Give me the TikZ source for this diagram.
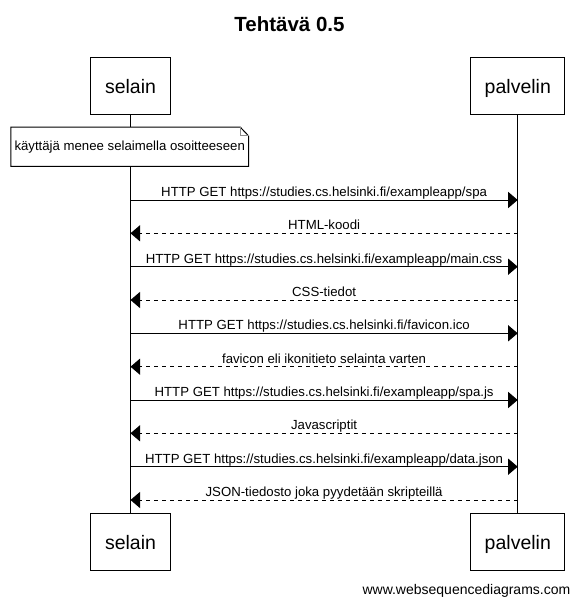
\documentclass[tikz,border=0pt]{standalone}
\usepackage{fontspec}
\setmainfont{Liberation Sans}
\usetikzlibrary{arrows.meta,backgrounds}
\begin{document}
\begin{tikzpicture}[x=1pt,y=-1pt,
  actor/.style={draw, line width=1pt, fill=white, minimum height=57pt, inner sep=0pt,
    text height=16.5pt, text depth=0pt, font=\fontsize{19.5}{22}\selectfont},
  msglabel/.style={anchor=base, yshift=3.5pt, inner sep=0pt, font=\fontsize{13.2}{15}\selectfont},
  req/.style={line width=1pt, -{Triangle[length=9.5pt,width=16pt]}},
  resp/.style={req, dash pattern=on 4pt off 4pt},
  lifeline/.style={line width=1pt},
  foldline/.style={line width=1pt, draw=black!45}]
\useasboundingbox (0,0) rectangle (579,605);

% title
\node[anchor=base, inner sep=0pt, font=\fontsize{20.5}{24}\selectfont\bfseries] (title) at (289.5,31.7) {Tehtävä 0.5};

% participants, top and bottom
\node[actor, minimum width=80pt] (selTop) at (130.5,85.7) {selain};
\node[actor, minimum width=94.3pt] (palTop) at (517.8,85.7) {palvelin};
\node[actor, minimum width=80pt] (selBot) at (130.5,541.7) {selain};
\node[actor, minimum width=94.3pt] (palBot) at (517.8,541.7) {palvelin};

% note over the browser's lifeline
\node[minimum width=237.3pt, minimum height=38.7pt, inner sep=0pt,
  font=\fontsize{13.2}{15}\selectfont] (note) at (129.7,146.7) {käyttäjä menee selaimella osoitteeseen};

\begin{scope}[on background layer]
  \fill[white] (0,0) rectangle (579,605);
  % lifelines
  \draw[lifeline] (selTop.south) -- (selBot.north);
  \draw[lifeline] (palTop.south) -- (palBot.north);
  % note outline with folded corner
  \filldraw[line width=1pt, fill=white] (note.north west) -- ([xshift=-8.3pt]note.north east)
    -- ([yshift=-8.7pt]note.north east) -- (note.south east) -- (note.south west) -- cycle;
  \draw[foldline] ([xshift=-8.3pt]note.north east) |- ([yshift=-8.7pt]note.north east);
\end{scope}

% message anchor points on the lifelines
\foreach \i/\y in {1/200,2/233.3,3/266.7,4/300,5/333.3,6/366.7,7/400,8/433.3,9/466.7,10/500}{
  \coordinate (s\i) at (130.5,\y);
  \coordinate (p\i) at (517.7,\y);
}

% messages
\draw[req]  (s1) -- (p1)  node[msglabel, midway] {HTTP GET https://studies.cs.helsinki.fi/exampleapp/spa};
\draw[resp] (p2) -- (s2)  node[msglabel, midway] {HTML-koodi};
\draw[req]  (s3) -- (p3)  node[msglabel, midway] {HTTP GET https://studies.cs.helsinki.fi/exampleapp/main.css};
\draw[resp] (p4) -- (s4)  node[msglabel, midway] {CSS-tiedot};
\draw[req]  (s5) -- (p5)  node[msglabel, midway] {HTTP GET https://studies.cs.helsinki.fi/favicon.ico};
\draw[resp] (p6) -- (s6)  node[msglabel, midway] {favicon eli ikonitieto selainta varten};
\draw[req]  (s7) -- (p7)  node[msglabel, midway] {HTTP GET https://studies.cs.helsinki.fi/exampleapp/spa.js};
\draw[resp] (p8) -- (s8)  node[msglabel, midway] {Javascriptit};
\draw[req]  (s9) -- (p9)  node[msglabel, midway] {HTTP GET https://studies.cs.helsinki.fi/exampleapp/data.json};
\draw[resp] (p10) -- (s10) node[msglabel, midway] {JSON-tiedosto joka pyydetään skripteillä};

% footer
\node[anchor=base east, inner sep=0pt, font=\fontsize{14}{16}\selectfont] (footer) at (570.5,594) {www.websequencediagrams.com};
\end{tikzpicture}
\end{document}
